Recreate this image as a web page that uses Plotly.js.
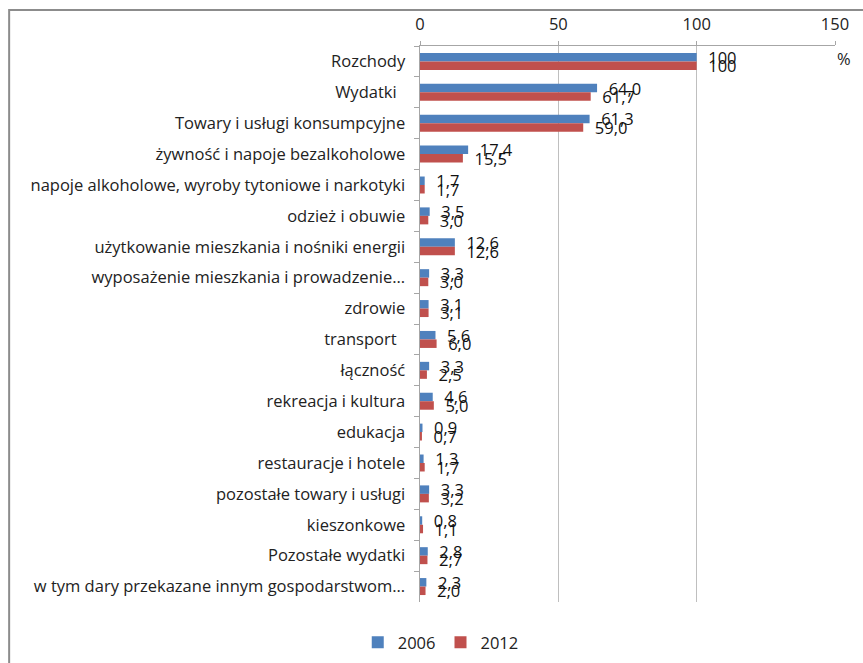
<!DOCTYPE html>
<html>
<head>
<meta charset="utf-8">
<script src="https://cdn.plot.ly/plotly-3.0.1.min.js"></script>
<style>html,body{margin:0;padding:0;background:#fff;}</style>
</head>
<body>
<div id="chart" style="width:863px;height:663px;"></div>
<script>
const categories = [
  "Rozchody",
  "Wydatki\u00a0\u00a0",
  "Towary i usługi konsumpcyjne",
  "żywność i napoje bezalkoholowe",
  "napoje alkoholowe, wyroby tytoniowe i narkotyki",
  "odzież i obuwie",
  "użytkowanie mieszkania i nośniki energii",
  "wyposażenie mieszkania i prowadzenie...",
  "zdrowie",
  "transport\u00a0\u00a0",
  "łączność",
  "rekreacja i kultura",
  "edukacja",
  "restauracje i hotele",
  "pozostałe towary i usługi",
  "kieszonkowe",
  "Pozostałe wydatki",
  "w tym dary przekazane innym gospodarstwom..."
];
const values2006 = [100, 64.0, 61.3, 17.4, 1.7, 3.5, 12.6, 3.3, 3.1, 5.6, 3.3, 4.6, 0.9, 1.3, 3.3, 0.8, 2.8, 2.3];
const values2012 = [100, 61.7, 59.0, 15.5, 1.7, 3.0, 12.6, 3.0, 3.1, 6.0, 2.5, 5.0, 0.7, 1.7, 3.2, 1.1, 2.7, 2.0];
const seriesNames = ["2006", "2012"];
const xTicks = [0, 50, 100, 150];

function fmt(v) {
  return v === 100 ? "100" : v.toFixed(1).replace(".", ",");
}

const FONT = "Open Sans, Liberation Sans, Arial, sans-serif";
const FS = 16.5;

function makeTrace(name, vals, color) {
  return {
    type: "bar",
    orientation: "h",
    name: name,
    x: vals,
    y: categories,
    marker: {color: color},
    text: vals.map(fmt),
    texttemplate: "\u00a0\u00a0%{text}",
    textposition: "outside",
    constraintext: "none",
    cliponaxis: false,
    textfont: {family: FONT, size: FS, color: "#111"},
    hoverinfo: "x+y+name"
  };
}

const data = [
  makeTrace(seriesNames[0], values2006, "#4F81BD"),
  makeTrace(seriesNames[1], values2012, "#C0504D")
];

const layout = {
  width: 863,
  height: 663,
  margin: {l: 420, r: 28, t: 46, b: 61, pad: 0, autoexpand: false},
  paper_bgcolor: "#fff",
  plot_bgcolor: "#fff",
  barmode: "group",
  bargap: 0.45,
  bargroupgap: 0,
  showlegend: true,
  font: {family: FONT, size: FS, color: "#222"},
  xaxis: {
    side: "top",
    range: [0, 150],
    tickvals: xTicks,
    ticktext: xTicks.map(String),
    showgrid: true,
    gridcolor: "#BFBFBF",
    gridwidth: 1.5,
    zeroline: false,
    showline: true,
    linecolor: "#A6A6A6",
    linewidth: 1.5,
    ticks: "outside",
    ticklen: 4,
    tickcolor: "#A6A6A6",
    ticklabelstandoff: 4,
    tickfont: {family: FONT, size: FS, color: "#222"},
    fixedrange: true
  },
  yaxis: {
    type: "category",
    autorange: "reversed",
    showgrid: false,
    zeroline: false,
    showline: true,
    linecolor: "#A6A6A6",
    linewidth: 1.5,
    ticks: "outside",
    tickson: "boundaries",
    ticklen: 5,
    tickcolor: "#A6A6A6",
    ticklabelstandoff: 10,
    tickfont: {family: FONT, size: FS, color: "#222"},
    fixedrange: true
  },
  legend: {
    orientation: "h",
    x: 0.05,
    xanchor: "center",
    y: -0.073,
    yanchor: "middle",
    font: {family: FONT, size: FS, color: "#222"},
    itemwidth: 30,
    traceorder: "normal"
  },
  annotations: [{
    text: "%",
    xref: "paper", yref: "paper",
    x: 1.0, y: 0.978,
    xanchor: "left", yanchor: "middle",
    showarrow: false,
    font: {family: FONT, size: FS, color: "#222"}
  }],
  shapes: [{
    type: "rect",
    xref: "paper", yref: "paper",
    x0: -0.99, x1: 1.5, y0: -0.5, y1: 1.0647,
    line: {color: "#8C8C8C", width: 2},
    fillcolor: "rgba(0,0,0,0)",
    layer: "below"
  }]
};

Plotly.newPlot("chart", data, layout, {displayModeBar: false, staticPlot: true});
</script>
</body>
</html>
